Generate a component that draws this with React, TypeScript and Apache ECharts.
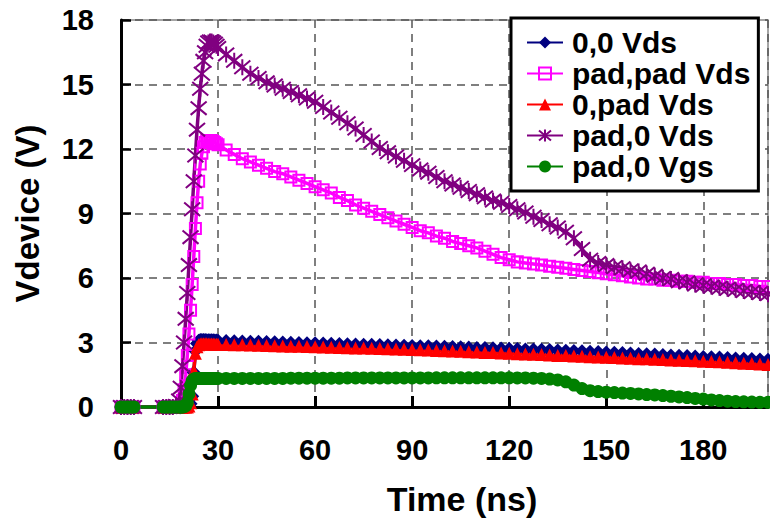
import { useEffect, useRef } from "react";
import * as echarts from "echarts";

const timeNs = [
  0, 1, 2, 3, 4,
  13, 14, 15, 16, 17, 18,
  18.5, 19, 19.5, 20, 20.5, 21, 21.5, 22, 22.5, 23, 23.5, 24, 24.5, 25, 25.5, 26, 26.5, 27, 27.5, 28, 28.5, 29, 29.5,
  30, 32.5, 35, 37.5, 40, 42.5, 45, 47.5, 50, 52.5,
  55, 57.5, 60, 62.5, 65, 67.5, 70, 72.5, 75, 77.5,
  80, 82.5, 85, 87.5, 90, 92.5, 95, 97.5, 100, 102.5,
  105, 107.5, 110, 112.5, 115, 117.5, 120, 122.5, 125, 127.5,
  130, 132.5, 135, 137.5, 140, 142.5, 145, 147.5, 150, 152.5,
  155, 157.5, 160, 162.5, 165, 167.5, 170, 172.5, 175, 177.5,
  180, 182.5, 185, 187.5, 190, 192.5, 195, 197.5, 200,
];

const vds00 = [
  0, 0, 0, 0, 0,
  0, 0, 0, 0, 0, 0,
  0, 0, 0, 0, 0, 0.05, 0.15, 0.5, 1.6, 2.6, 2.95, 3.08, 3.12, 3.12, 3.12, 3.12, 3.11, 3.11, 3.1, 3.1, 3.1, 3.09, 3.09,
  3.08, 3.07, 3.06, 3.05, 3.04, 3.03, 3.02, 3.01, 3.0, 2.99,
  2.98, 2.97, 2.96, 2.95, 2.94, 2.93, 2.92, 2.91, 2.9, 2.89,
  2.88, 2.87, 2.86, 2.85, 2.84, 2.83, 2.82, 2.81, 2.8, 2.79,
  2.78, 2.77, 2.75, 2.74, 2.73, 2.72, 2.71, 2.7, 2.68, 2.67,
  2.66, 2.65, 2.63, 2.62, 2.6, 2.59, 2.57, 2.56, 2.54, 2.52,
  2.51, 2.49, 2.47, 2.45, 2.44, 2.42, 2.4, 2.38, 2.37, 2.35,
  2.33, 2.31, 2.3, 2.28, 2.26, 2.24, 2.23, 2.21, 2.2,
];

const vdsPadPad = [
  0, 0, 0, 0, 0,
  0, 0, 0, 0, 0, 0,
  0.05, 0.3, 0.8, 1.5, 2.4, 3.4, 4.5, 5.7, 7.0, 8.3, 9.5, 10.5, 11.3, 11.8, 12.1, 12.3, 12.4, 12.4, 12.4, 12.4, 12.35, 12.3, 12.25,
  12.2, 11.95, 11.75, 11.55, 11.4, 11.25, 11.1, 10.95, 10.85, 10.7,
  10.55, 10.4, 10.25, 10.1, 9.95, 9.75, 9.6, 9.4, 9.25, 9.1,
  8.95, 8.8, 8.65, 8.5, 8.35, 8.2, 8.1, 7.95, 7.85, 7.7,
  7.6, 7.5, 7.4, 7.25, 7.1, 6.95, 6.85, 6.75, 6.7, 6.65,
  6.6, 6.55, 6.5, 6.45, 6.4, 6.35, 6.3, 6.25, 6.2, 6.15,
  6.1, 6.05, 6.0, 5.95, 5.95, 5.9, 5.9, 5.85, 5.85, 5.8,
  5.8, 5.75, 5.75, 5.7, 5.7, 5.65, 5.65, 5.6, 5.6,
];

const vds0Pad = [
  0, 0, 0, 0, 0,
  0, 0, 0, 0, 0, 0,
  0, 0, 0, 0, 0, 0.05, 0.2, 0.6, 1.7, 2.5, 2.8, 2.9, 2.93, 2.94, 2.94, 2.94, 2.94, 2.93, 2.93, 2.93, 2.93, 2.92, 2.92,
  2.92, 2.91, 2.9, 2.89, 2.88, 2.87, 2.86, 2.85, 2.84, 2.83,
  2.82, 2.81, 2.8, 2.79, 2.78, 2.77, 2.76, 2.75, 2.74, 2.73,
  2.72, 2.71, 2.7, 2.69, 2.68, 2.66, 2.65, 2.63, 2.62, 2.6,
  2.59, 2.57, 2.56, 2.54, 2.53, 2.51, 2.5, 2.48, 2.47, 2.45,
  2.44, 2.42, 2.4, 2.39, 2.37, 2.36, 2.34, 2.33, 2.31, 2.3,
  2.28, 2.27, 2.25, 2.24, 2.22, 2.21, 2.19, 2.18, 2.16, 2.15,
  2.13, 2.12, 2.1, 2.08, 2.06, 2.04, 2.02, 2.0, 1.98,
];

const vdsPad0 = [
  0, 0, 0, 0, 0,
  0, 0, 0, 0, 0.05, 0.3,
  0.9, 1.9, 3.0, 4.1, 5.3, 6.6, 7.9, 9.2, 10.5, 11.7, 12.9, 13.9, 14.8, 15.5, 16.1, 16.5, 16.8, 16.95, 17.0, 17.0, 16.95, 16.9, 16.8,
  16.7, 16.4, 16.1, 15.8, 15.5, 15.3, 15.1, 14.95, 14.8, 14.65,
  14.5, 14.35, 14.2, 13.95, 13.7, 13.45, 13.2, 12.95, 12.65, 12.35,
  12.05, 11.85, 11.65, 11.45, 11.25, 11.05, 10.9, 10.7, 10.5, 10.35,
  10.2, 10.05, 9.9, 9.75, 9.6, 9.5, 9.35, 9.2, 9.05, 8.85,
  8.7, 8.5, 8.35, 8.15, 7.85, 7.35, 6.85, 6.7, 6.6, 6.5,
  6.45, 6.35, 6.3, 6.2, 6.1, 6.0, 5.95, 5.85, 5.8, 5.7,
  5.65, 5.6, 5.55, 5.5, 5.45, 5.4, 5.35, 5.3, 5.25,
];

const vgsPad0 = [
  0, 0, 0, 0, 0,
  0, 0, 0, 0, 0, 0,
  0, 0, 0.02, 0.05, 0.2, 0.6, 1.0, 1.22, 1.3, 1.32, 1.33, 1.33, 1.33, 1.33, 1.33, 1.33, 1.33, 1.33, 1.33, 1.33, 1.33, 1.33, 1.33,
  1.33, 1.33, 1.33, 1.33, 1.33, 1.33, 1.33, 1.33, 1.33, 1.34,
  1.34, 1.34, 1.34, 1.34, 1.34, 1.34, 1.35, 1.35, 1.35, 1.35,
  1.35, 1.35, 1.35, 1.35, 1.35, 1.35, 1.35, 1.36, 1.36, 1.36,
  1.36, 1.36, 1.36, 1.36, 1.36, 1.36, 1.36, 1.35, 1.35, 1.34,
  1.33, 1.3, 1.26, 1.17, 1.02, 0.86, 0.76, 0.72, 0.69, 0.67,
  0.65, 0.63, 0.61, 0.58, 0.56, 0.53, 0.5, 0.47, 0.44, 0.4,
  0.37, 0.33, 0.3, 0.27, 0.25, 0.24, 0.23, 0.22, 0.22,
];

const seriesNames = ["0,0 Vds", "pad,pad Vds", "0,pad Vds", "pad,0 Vds", "pad,0 Vgs"];
const xTicks = { min: 0, max: 200, interval: 30 };
const yTicks = { min: 0, max: 18, interval: 3 };

const FONT = "'Liberation Sans', Arial, Helvetica, sans-serif";
const STAR = "path://M5 0L5 10M0.8 0.8L9.2 9.2M0.8 9.2L9.2 0.8";

const pairs = (vals: number[]) => timeNs.map((t, i) => [t, vals[i]]);

export default function App() {
  const ref = useRef<HTMLDivElement>(null);
  useEffect(() => {
    document.body.style.margin = "0";
    const chart = echarts.init(ref.current!, undefined, { renderer: "svg" });
    const grid = {
      color: "#555",
      type: [8, 6],
      width: 1.5,
    };
    const base = {
      type: "line",
      clip: false,
      silent: true,
    };
    chart.setOption({
      animation: false,
      backgroundColor: "#fff",
      grid: {
        left: 121,
        right: 2,
        top: 20,
        bottom: 113,
        show: true,
        borderColor: "#888",
        borderWidth: 1.5,
        backgroundColor: "transparent",
      },
      legend: {
        orient: "vertical",
        left: 511,
        top: 18,
        padding: [9, 8, 9, 15],
        itemGap: 0,
        itemWidth: 36,
        itemHeight: 15,
        borderColor: "#000",
        borderWidth: 3,
        backgroundColor: "#fff",
        selectedMode: false,
        textStyle: {
          fontSize: 30,
          fontWeight: "bold",
          fontFamily: FONT,
          color: "#000",
          lineHeight: 31,
          padding: [0, 0, 0, 4],
        },
        data: seriesNames,
      },
      xAxis: {
        type: "value",
        ...xTicks,
        name: "Time (ns)",
        nameLocation: "middle",
        nameGap: 75,
        nameTextStyle: {
          fontSize: 34,
          fontWeight: "bold",
          fontFamily: FONT,
          color: "#000",
          padding: [0, 0, 0, 35],
        },
        axisLine: { show: true, onZero: false, lineStyle: { color: "#000", width: 3 } },
        axisTick: { show: true, inside: true, length: 11, lineStyle: { color: "#000", width: 3 } },
        axisLabel: {
          fontSize: 29,
          fontWeight: "bold",
          fontFamily: FONT,
          color: "#000",
          margin: 28,
          showMaxLabel: false,
        },
        splitLine: { show: true, lineStyle: grid },
      },
      yAxis: {
        type: "value",
        ...yTicks,
        name: "Vdevice (V)",
        nameLocation: "middle",
        nameGap: 77,
        nameTextStyle: {
          fontSize: 33,
          fontWeight: "bold",
          fontFamily: FONT,
          color: "#000",
        },
        axisLine: { show: true, onZero: false, lineStyle: { color: "#000", width: 3 } },
        axisTick: { show: true, inside: true, length: 10, lineStyle: { color: "#000", width: 2.5 } },
        axisLabel: {
          fontSize: 29,
          fontWeight: "bold",
          fontFamily: FONT,
          color: "#000",
          margin: 27,
        },
        splitLine: { show: true, lineStyle: grid },
      },
      series: [
        {
          ...base,
          name: seriesNames[0],
          data: pairs(vds00),
          symbol: "diamond",
          symbolSize: 14,
          itemStyle: { color: "#000080" },
          lineStyle: { width: 3.5, color: "#000080" },
        },
        {
          ...base,
          name: seriesNames[1],
          data: pairs(vdsPadPad),
          symbol: "rect",
          symbolSize: 11,
          itemStyle: { color: "rgba(255,255,255,0)", borderColor: "#FF00FF", borderWidth: 2 },
          lineStyle: { width: 3.5, color: "#FF00FF" },
        },
        {
          ...base,
          name: seriesNames[2],
          data: pairs(vds0Pad),
          symbol: "triangle",
          symbolSize: 13,
          itemStyle: { color: "#FF0000" },
          lineStyle: { width: 3.5, color: "#FF0000" },
        },
        {
          ...base,
          name: seriesNames[3],
          data: pairs(vdsPad0),
          symbol: STAR,
          symbolSize: 16,
          itemStyle: { color: "#800080", borderColor: "#800080", borderWidth: 2 },
          lineStyle: { width: 3.5, color: "#800080" },
        },
        {
          ...base,
          name: seriesNames[4],
          data: pairs(vgsPad0),
          symbol: "circle",
          symbolSize: 13,
          itemStyle: { color: "#008000" },
          lineStyle: { width: 3.5, color: "#008000" },
        },
      ],
    });
    return () => chart.dispose();
  }, []);
  return (
    <div
      ref={ref}
      style={{ position: "fixed", left: 0, top: 0, width: 770, height: 521 }}
    />
  );
}
